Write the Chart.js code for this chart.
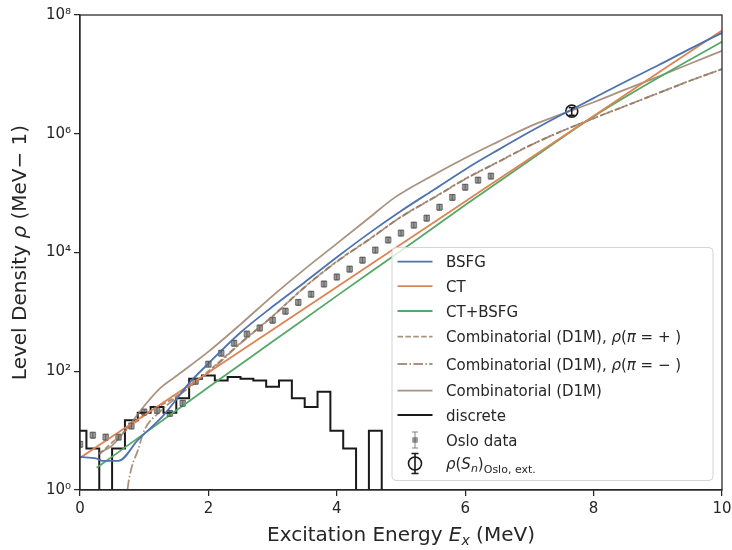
<!DOCTYPE html>
<html>
<head>
<meta charset="utf-8">
<script src="https://cdn.jsdelivr.net/npm/chart.js@4.4.0/dist/chart.umd.min.js"></script>
<style>
  html, body { margin: 0; padding: 0; background: #fff; }
</style>
</head>
<body>
<canvas id="grafica" width="732" height="550"></canvas>
<script>
// energias en MeV, densidades en 1/MeV
const bsfgE = [0, 0.25, 0.35, 0.6, 0.9, 1.3, 1.7, 2.0, 2.5, 3, 3.5, 4, 4.5, 5, 5.5, 6, 6.5, 7, 7.5, 8, 8.5, 9, 9.5, 10]
const bsfgRho = [3.6, 3.4, 3.1, 3.1, 6.9, 18, 63, 135, 450, 1230, 3160, 8300, 21000, 50000, 112000, 251000, 525000, 1.07e6, 2.09e6, 3.98e6, 7.6e6, 1.41e7, 2.69e7, 5.0e7]

const ctE = [0, 1, 2, 3, 4, 5, 6, 7, 8, 9, 10]
const ctRho = [3.47, 18.2, 95.5, 501, 2630, 13800, 72400, 380000, 2.0e6, 1.05e7, 5.5e7]

const ctbsfgE = [0.26, 1, 2, 3, 4, 5, 6, 7, 8, 9, 10]
const ctbsfgRho = [2.37, 8.9, 53.7, 316, 1860, 10700, 63100, 355000, 1.95e6, 8.7e6, 3.55e7]

const combPosE = [0.3, 0.5, 1, 1.5, 2, 2.5, 3, 3.5, 4, 4.5, 5, 5.5, 6, 6.5, 7, 7.5, 8, 8.5, 9, 9.5, 10]
const combPosRho = [4.0, 6.3, 18, 38, 100, 300, 850, 2630, 7100, 16600, 40000, 83000, 174000, 331000, 631000, 1.1e6, 1.82e6, 2.95e6, 4.8e6, 7.8e6, 1.23e7]

const combNegE = [0.7, 0.74, 0.8, 0.9, 1, 1.25, 1.5, 2, 2.5, 3, 3.5, 4, 4.5, 5, 5.5, 6, 6.5, 7, 7.5, 8, 8.5, 9, 9.5, 10]
const combNegRho = [0.3, 1.0, 2.3, 4.6, 10, 21, 36, 95, 295, 840, 2600, 7000, 16400, 39500, 82000, 172000, 328000, 625000, 1.1e6, 1.82e6, 2.95e6, 4.8e6, 7.8e6, 1.23e7]

const combE = [0.3, 0.5, 0.75, 1, 1.25, 1.5, 2, 2.5, 3, 3.5, 4, 4.5, 4.9, 5.5, 6, 6.5, 7, 7.5, 8, 8.5, 9, 9.5, 10]
const combRho = [4.2, 5.6, 11.5, 26, 52, 83, 214, 617, 1860, 5250, 14100, 38000, 84000, 200000, 390000, 724000, 1.32e6, 2.14e6, 3.39e6, 5.6e6, 9.1e6, 1.51e7, 2.5e7]

// niveles discretos: bordes de los bines y densidad en cada bin
const discretoBordes = [-0.1, 0.1, 0.3, 0.5, 0.7, 0.9, 1.1, 1.3, 1.5, 1.7, 1.9, 2.1, 2.3, 2.5, 2.7, 2.9, 3.1, 3.3, 3.5, 3.7, 3.9, 4.1, 4.3, 4.5, 4.7, 4.9]
const discretoRho = [10, 5, 0, 5, 15, 20, 25, 20, 35, 75, 85, 70, 80, 75, 70, 55, 70, 35, 25, 45, 10, 5, 0, 10, 0]

const osloE = [0, 0.2, 0.4, 0.6, 0.8, 1.0, 1.2, 1.4, 1.6, 1.8, 2.0, 2.2, 2.4, 2.6, 2.8, 3.0, 3.2, 3.4, 3.6, 3.8, 4.0, 4.2, 4.4, 4.6, 4.8, 5.0, 5.2, 5.4, 5.6, 5.8, 6.0, 6.2, 6.4]
const osloRho = [5.9, 8.4, 7.8, 7.8, 12, 20.6, 22, 19.6, 29, 68, 132, 202, 297, 424, 537, 725, 1030, 1450, 1990, 2960, 3880, 5270, 7450, 11000, 16300, 21300, 29000, 38000, 58000, 85000, 126000, 166000, 194000]
const osloErr = [0.7, 1.0, 0.9, 0.9, 1.4, 2.4, 2.6, 2.3, 3.4, 8, 15, 23, 34, 49, 62, 84, 120, 170, 230, 340, 450, 610, 860, 1270, 1880, 2460, 3350, 4400, 6700, 9800, 14500, 19000, 22000]

const snE = [7.66]
const snRho = [2.4e6]
const snErr = [0.35e6]

const yTicks = [1, 1e2, 1e4, 1e6, 1e8]
const yTickLabels = ['10\u2070', '10\u00b2', '10\u2074', '10\u2076', '10\u2078']

const azul = '#4c72b0', naranja = '#dd8452', verde = '#55a868', cafe = 'rgba(147,120,96,0.8)', negro = '#1a1a1a'
const gris = 'rgba(80,80,80,0.6)'
const texto = '#262626'
const fuente = 'DejaVu Sans'

function puntos(xs, ys) {
    return xs.map((x, i) => ({x: x, y: ys[i]}))
}

function curva(label, xs, ys, color, dash) {
    return {
        type: 'line', label: label, data: puntos(xs, ys),
        borderColor: color, borderWidth: 1.8, borderDash: dash || [],
        pointRadius: 0, cubicInterpolationMode: 'monotone', clip: 0, fill: false
    }
}

// histograma de niveles discretos (los bines vacios caen fuera del eje)
let discretoPuntos = discretoBordes.map((b, i) => ({x: b, y: i < discretoRho.length && discretoRho[i] > 0 ? discretoRho[i] : 1e-3}))

const datasets = [
    curva('BSFG', bsfgE, bsfgRho, azul),
    curva('CT', ctE, ctRho, naranja),
    curva('CT+BSFG', ctbsfgE, ctbsfgRho, verde),
    curva('Combinatorial (D1M), +', combPosE, combPosRho, cafe, [5.5, 2.4]),
    curva('Combinatorial (D1M), -', combNegE, combNegRho, cafe, [9.6, 2.4, 1.5, 2.4]),
    curva('Combinatorial (D1M)', combE, combRho, cafe),
    {
        type: 'line', label: 'discrete', data: discretoPuntos, stepped: 'before',
        borderColor: negro, borderWidth: 2, pointRadius: 0, clip: 0, fill: false
    },
    {
        type: 'scatter', label: 'Oslo data', data: puntos(osloE, osloRho),
        pointStyle: 'rect', pointRadius: 4, backgroundColor: gris, borderColor: 'rgba(60,60,60,0.5)', borderWidth: 1, clip: 0
    },
    {
        type: 'scatter', label: 'Sn', data: puntos(snE, snRho),
        pointStyle: 'circle', pointRadius: 6, backgroundColor: 'rgba(0,0,0,0)', borderColor: negro, borderWidth: 1.6
    }
]

function textoRico(c, partes, x, y, centrado) {
    let ancho = 0
    partes.forEach(p => { c.font = p[1]; ancho += c.measureText(p[0]).width })
    let cx = centrado ? x - ancho / 2 : x
    partes.forEach(p => {
        c.font = p[1]
        c.fillText(p[0], cx, y + (p[2] || 0))
        cx += c.measureText(p[0]).width
    })
}

function barraError(c, px, y1, y2, cap) {
    c.beginPath()
    c.moveTo(px, y1); c.lineTo(px, y2)
    c.moveTo(px - cap, y1); c.lineTo(px + cap, y1)
    c.moveTo(px - cap, y2); c.lineTo(px + cap, y2)
    c.stroke()
}

const extras = {
    id: 'extras',
    afterDatasetsDraw(chart) {
        const c = chart.ctx, sx = chart.scales.x, sy = chart.scales.y, a = chart.chartArea
        c.save()
        c.beginPath(); c.rect(a.left, a.top, a.right - a.left, a.bottom - a.top); c.clip()
        c.strokeStyle = 'rgba(80,80,80,0.7)'; c.lineWidth = 1
        osloE.forEach((e, i) => {
            barraError(c, sx.getPixelForValue(e), sy.getPixelForValue(osloRho[i] - osloErr[i]), sy.getPixelForValue(osloRho[i] + osloErr[i]), 2.5)
        })
        c.strokeStyle = negro; c.lineWidth = 1.5
        snE.forEach((e, i) => {
            barraError(c, sx.getPixelForValue(e), sy.getPixelForValue(snRho[i] - snErr[i]), sy.getPixelForValue(snRho[i] + snErr[i]), 3)
        })
        c.restore()
        // marco de los ejes
        c.save()
        c.strokeStyle = texto; c.lineWidth = 1.25
        c.strokeRect(a.left, a.top, a.right - a.left, a.bottom - a.top)
        c.restore()
    },
    afterDraw(chart) {
        const c = chart.ctx, a = chart.chartArea
        c.save()
        c.fillStyle = texto
        c.textBaseline = 'alphabetic'
        const n = '20px "' + fuente + '"', it = 'italic 20px "' + fuente + '"', sub = 'italic 14px "' + fuente + '"'
        textoRico(c, [['Excitation Energy ', n], ['E', it], ['x', sub, 4], [' (MeV)', n]], (a.left + a.right) / 2, 541, true)
        c.translate(26, (a.top + a.bottom) / 2)
        c.rotate(-Math.PI / 2)
        textoRico(c, [['Level Density ', n], ['\u03c1', it], [' (MeV\u2212 1)', n]], 0, 0, true)
        c.restore()

        // leyenda
        c.save()
        const lx = 392, ly = 247.5, lw = 321, lh = 233
        c.beginPath()
        c.roundRect(lx, ly, lw, lh, 4)
        c.fillStyle = 'rgba(255,255,255,0.8)'
        c.fill()
        c.strokeStyle = '#d4d4d4'; c.lineWidth = 1
        c.stroke()
        const filas = [261.7, 286.2, 311, 336.7, 364, 390.7, 415, 440, 463.5]
        const x0 = 397.5, x1 = 432.5, tx = 446
        const f = '15px "' + fuente + '"', fi = 'italic 15px "' + fuente + '"', fs = '11px "' + fuente + '"', fsi = 'italic 11px "' + fuente + '"'
        const muestras = [
            [azul, []], [naranja, []], [verde, []], [cafe, [5.5, 2.4]], [cafe, [9.6, 2.4, 1.5, 2.4]], [cafe, []], [negro, []]
        ]
        muestras.forEach((m, i) => {
            c.beginPath()
            c.strokeStyle = m[0]; c.lineWidth = i == 6 ? 2 : 1.8
            c.setLineDash(m[1])
            c.moveTo(x0, filas[i]); c.lineTo(x1, filas[i])
            c.stroke()
        })
        c.setLineDash([])
        const cx = (x0 + x1) / 2
        c.strokeStyle = 'rgba(80,80,80,0.7)'; c.lineWidth = 1
        barraError(c, cx, filas[7] - 8, filas[7] + 8, 3)
        c.fillStyle = gris
        c.fillRect(cx - 2.8, filas[7] - 2.8, 5.6, 5.6)
        c.strokeStyle = negro; c.lineWidth = 1.6
        barraError(c, cx, filas[8] - 10, filas[8] + 10, 3.5)
        c.beginPath(); c.arc(cx, filas[8], 6.5, 0, Math.PI * 2); c.stroke()

        c.fillStyle = texto
        const b = 5.6
        textoRico(c, [['BSFG', f]], tx, filas[0] + b)
        textoRico(c, [['CT', f]], tx, filas[1] + b)
        textoRico(c, [['CT+BSFG', f]], tx, filas[2] + b)
        textoRico(c, [['Combinatorial (D1M), ', f], ['\u03c1', fi], ['(', f], ['\u03c0', fi], [' = + )', f]], tx, filas[3] + b)
        textoRico(c, [['Combinatorial (D1M), ', f], ['\u03c1', fi], ['(', f], ['\u03c0', fi], [' = \u2212 )', f]], tx, filas[4] + b)
        textoRico(c, [['Combinatorial (D1M)', f]], tx, filas[5] + b)
        textoRico(c, [['discrete', f]], tx, filas[6] + b)
        textoRico(c, [['Oslo data', f]], tx, filas[7] + b)
        textoRico(c, [['\u03c1', fi], ['(', f], ['S', fi], ['n', fsi, 3], [')', f], ['Oslo, ext.', fs, 4]], tx, filas[8] + b)
        c.restore()
    }
}

const ctx = document.getElementById('grafica').getContext('2d')

new Chart(ctx, {
    data: {datasets: datasets},
    options: {
        responsive: false,
        animation: false,
        devicePixelRatio: 1,
        layout: {padding: {top: 15, right: 10, left: 0, bottom: 0}},
        plugins: {legend: {display: false}, tooltip: {enabled: false}},
        scales: {
            x: {
                type: 'linear', min: 0, max: 10,
                afterFit: s => { s.height = 60; s.paddingLeft = 0; s.paddingRight = 0 },
                ticks: {stepSize: 2, color: texto, padding: 4, font: {family: fuente, size: 15}, maxRotation: 0},
                grid: {drawOnChartArea: false, drawTicks: true, tickLength: 6, color: texto, lineWidth: 1.25},
                border: {display: true, color: texto, width: 1.25}
            },
            y: {
                type: 'logarithmic', min: 1, max: 1e8,
                afterFit: s => { s.width = 80; s.paddingTop = 0; s.paddingBottom = 0 },
                afterBuildTicks: s => { s.ticks = yTicks.map(v => ({value: v})) },
                ticks: {
                    color: texto, padding: 3, font: {family: fuente, size: 15},
                    callback: v => { const i = yTicks.indexOf(v); return i >= 0 ? yTickLabels[i] : '' }
                },
                grid: {drawOnChartArea: false, drawTicks: true, tickLength: 6, color: texto, lineWidth: 1.25},
                border: {display: true, color: texto, width: 1.25}
            }
        }
    },
    plugins: [extras]
})
</script>
</body>
</html>
